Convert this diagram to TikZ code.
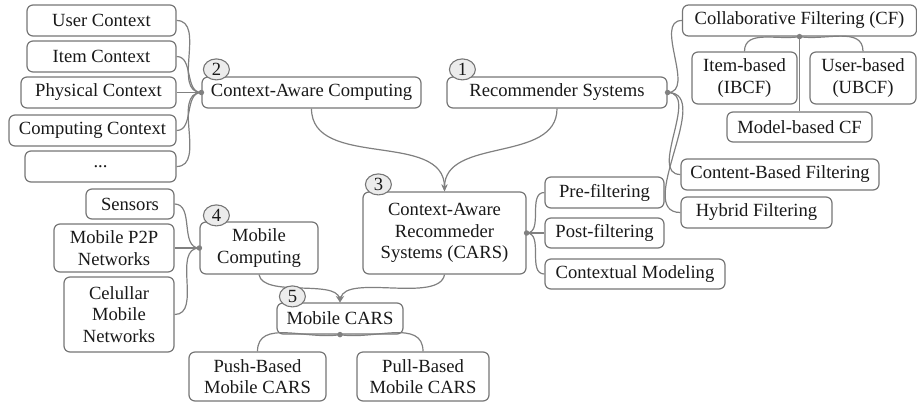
\documentclass[tikz,border=0pt]{standalone}
\usepackage{fontspec}
\setmainfont{Liberation Serif}
\newfontfamily\tnrfont{Liberation Serif}
\usetikzlibrary{arrows.meta,shapes.geometric}
\definecolor{linegray}{RGB}{128,128,128}
\definecolor{boxgray}{RGB}{118,118,118}
\definecolor{badgefill}{RGB}{236,236,236}
\definecolor{txt}{RGB}{25,25,25}
\begin{document}
\begin{tikzpicture}[x=1pt,y=-1pt,
  box/.style={draw=boxgray, line width=1.2pt, rounded corners=6pt, inner sep=0pt,
    align=center, text=txt, font=\tnrfont\fontsize{18.6}{21.5}\selectfont, fill=white},
  badge/.style={ellipse, draw=boxgray, line width=1.1pt, fill=badgefill, inner sep=0pt,
    minimum width=26pt, minimum height=21pt, text=txt, font=\tnrfont\fontsize{18.6}{21.5}\selectfont},
  conn/.style={draw=linegray, line width=1.2pt},
  arr/.style={conn, -{Stealth[length=7pt,width=6pt]}},
  jdot/.style={circle, fill=linegray, inner sep=0pt, minimum size=5.5pt}
]
\useasboundingbox (0,0) rectangle (917,402);

% left context group
\node[box, minimum width=149, minimum height=31] (uc) at (101.5,20.5) {User Context};
\node[box, minimum width=149, minimum height=31] (ic) at (101.5,56.5) {Item Context};
\node[box, minimum width=155, minimum height=31] (pc) at (98.5,92.5) {Physical Context};
\node[box, minimum width=167, minimum height=31] (cc) at (92.5,130.5) {Computing Context};
\node[box, minimum width=151, minimum height=31] (etc) at (100.5,166.5) {...};
\node[box, minimum width=219, minimum height=31] (cac) at (311.5,92.5) {Context-Aware Computing};

% recommender systems group
\node[box, minimum width=220, minimum height=31] (rs) at (557,92.5) {Recommender Systems};
\node[box, minimum width=234, minimum height=31] (cf) at (799.5,20.5) {Collaborative Filtering (CF)};
\node[box, minimum width=105, minimum height=52] (ib) at (744.5,78) {Item-based\\(IBCF)};
\node[box, minimum width=106, minimum height=52] (ub) at (863,78) {User-based\\(UBCF)};
\node[box, minimum width=145, minimum height=30] (mb) at (799.5,127) {Model-based CF};
\node[box, minimum width=198, minimum height=31] (cbf) at (780,174.5) {Content-Based Filtering};
\node[box, minimum width=151, minimum height=31] (hf) at (756.5,212.5) {Hybrid Filtering};

% CARS group
\node[box, minimum width=163, minimum height=82] (cars) at (444.5,233) {Context-Aware\\Recommeder\\Systems (CARS)};
\node[box, minimum width=119, minimum height=31] (pre) at (604.5,192.5) {Pre-filtering};
\node[box, minimum width=119, minimum height=30] (post) at (604.5,233) {Post-filtering};
\node[box, minimum width=180, minimum height=30] (cm) at (635,274) {Contextual Modeling};

% mobile computing group
\node[box, minimum width=88, minimum height=30] (sen) at (130,204) {Sensors};
\node[box, minimum width=120, minimum height=48] (p2p) at (114,248) {Mobile P2P\\Networks};
\node[box, minimum width=110, minimum height=75] (cell) at (119,314.5) {Celullar\\Mobile\\Networks};
\node[box, minimum width=118, minimum height=52] (mc) at (259,248) {Mobile\\Computing};

% mobile CARS group
\node[box, minimum width=126, minimum height=31] (mcars) at (340,318.5) {Mobile CARS};
\node[box, minimum width=137, minimum height=49] (push) at (257.5,376.5) {Push-Based\\Mobile CARS};
\node[box, minimum width=132, minimum height=49] (pull) at (423,376.5) {Pull-Based\\Mobile CARS};

% junction points
\coordinate (j2) at (cac.west);
\coordinate (j1) at (rs.east);
\coordinate (jcf) at (cf.south);
\coordinate (j3) at (cars.east);
\coordinate (j4) at (mc.west);
\coordinate (j5) at (mcars.south);

% connectors: context-aware computing
\draw[conn] (uc.east) to[out=0,in=180] (j2);
\draw[conn] (ic.east) to[out=0,in=180] (j2);
\draw[conn] (pc.east) -- (j2);
\draw[conn] (cc.east) to[out=0,in=180] (j2);
\draw[conn] (etc.east) to[out=0,in=180] (j2);

% connectors: recommender systems
\draw[conn] (j1) to[out=0,in=180] (cf.west);
\draw[conn] (j1) to[out=0,in=180] (cbf.west);
\draw[conn] (j1) to[out=0,in=180] (hf.west);
\draw[conn] (jcf) to[out=190,in=90] (ib.north);
\draw[conn] (jcf) to[out=-10,in=90] (ub.north);
\draw[conn] (jcf) -- (mb.north);

% connectors: CARS
\draw[conn] (j3) to[out=0,in=180] (pre.west);
\draw[conn] (j3) -- (post.west);
\draw[conn] (j3) to[out=0,in=180] (cm.west);

% connectors: mobile computing
\draw[conn] (sen.east) to[out=0,in=180] (j4);
\draw[conn] (p2p.east) -- (j4);
\draw[conn] (cell.east) to[out=0,in=180] (j4);

% connectors: mobile CARS
\draw[conn] (j5) to[out=190,in=90] (push.north);
\draw[conn] (j5) to[out=-10,in=90] (pull.north);

% arrows
\draw[arr] (cac.south) to[out=-90,in=90] (cars.north);
\draw[arr] (rs.south) to[out=-90,in=90] (cars.north);
\draw[arr] (mc.south) to[out=-80,in=100,looseness=0.7] (mcars.north);
\draw[arr] (cars.south) to[out=-100,in=80,looseness=0.7] (mcars.north);

% junction dots
\foreach \j in {j1,j2,jcf,j3,j4,j5} \node[jdot] (dot-\j) at (\j) {};

% badges
\node[badge] (b1) at ([xshift=16pt,yshift=7pt]rs.north west) {1};
\node[badge] (b2) at ([xshift=15pt,yshift=7pt]cac.north west) {2};
\node[badge] (b3) at ([xshift=16pt,yshift=7pt]cars.north west) {3};
\node[badge] (b4) at ([xshift=17pt,yshift=6pt]mc.north west) {4};
\node[badge] (b5) at ([xshift=16pt,yshift=6pt]mcars.north west) {5};
\end{tikzpicture}
\end{document}
